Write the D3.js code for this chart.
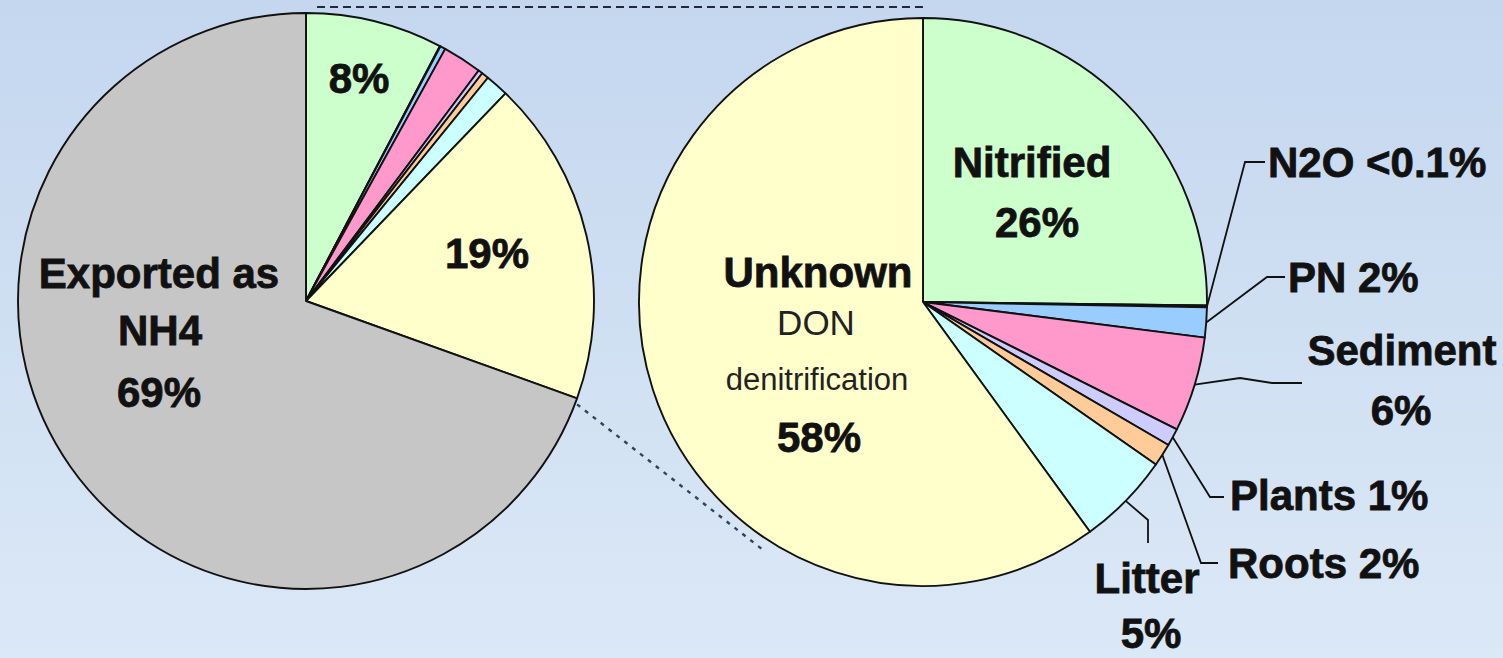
<!DOCTYPE html>
<html lang="en">
<head>
    <title>Nitrogen budget - pie of pie</title>
    <script src="https://d3js.org/d3.v7.min.js"></script>
    <style>
        body{
            margin: 0;
            background-color: #d3e2f3;
        }
        svg{
            display: block;
        }
        text{
            font-family: "Liberation Sans", Arial, sans-serif;
            fill: #111;
        }
        text.bold{
            font-weight: bold;
            font-size: 42px;
            stroke: #111;
            stroke-width: 0.8px;
        }
        text.light{
            font-weight: normal;
            fill: #222;
        }
    </style>
</head>
<body>
<div id="my_dataviz"></div>
<script>

// ---- data ----
// left (whole budget) pie, clockwise from 12 o'clock
var leftCategories = ["Nitrified", "N2O", "PN", "Sediment", "Plants", "Roots", "Litter", "Unknown", "Exported"];
var leftValues     = [7.7, 0.03, 0.3, 2.2, 0.25, 0.4, 1.3, 18.3, 69.5];

// right (breakdown of the non exported part) pie
var rightCategories = ["Nitrified", "N2O", "PN", "Sediment", "Plants", "Roots", "Litter", "Unknown"];
var rightValues     = [25.2, 0.1, 1.7, 5.4, 1.0, 1.3, 5.3, 60.0];

// label texts
var leftLabelLines  = [["8%"], ["19%"], ["Exported as", "NH4", "69%"]];
var innerLabelLines = [["Nitrified", "26%"], ["Unknown", "DON", "denitrification", "58%"]];
var outerLabelLines = [["N2O <0.1%"], ["PN 2%"], ["Sediment", "6%"], ["Plants 1%"], ["Roots 2%"], ["Litter", "5%"]];
var outerLabelCats  = ["N2O", "PN", "Sediment", "Plants", "Roots", "Litter"];

// ---- layout ----
var width = 1503, height = 658;
var L = {cx: 306, cy: 301, r: 288};
var R = {cx: 923, cy: 302, r: 284};

var color = d3.scaleOrdinal()
    .domain(["Nitrified", "N2O", "PN", "Sediment", "Plants", "Roots", "Litter", "Unknown", "Exported"])
    .range(["#ccffcc", "#ccffcc", "#99ccff", "#ff99cc", "#ccccff", "#ffcc99", "#ccffff", "#ffffcc", "#c6c6c6"]);

var svg = d3.select("#my_dataviz")
  .append("svg")
    .attr("width", width)
    .attr("height", height);

// background gradient
var grad = svg.append("defs").append("linearGradient")
    .attr("id", "bg").attr("x1", 0).attr("y1", 0).attr("x2", 0).attr("y2", 1);
grad.append("stop").attr("offset", "0%").attr("stop-color", "#c4d7ef");
grad.append("stop").attr("offset", "100%").attr("stop-color", "#dbe8f6");
svg.append("rect").attr("width", width).attr("height", height).attr("fill", "url(#bg)");

var pie = d3.pie().sort(null).value(function(d){ return d.value; });

function polar(c, r, a){
    return [c.cx + r * Math.sin(a), c.cy - r * Math.cos(a)];
}

function drawPie(c, cats, vals){
    var data = cats.map(function(k, i){ return {key: k, value: vals[i]}; });
    var arcs = pie(data);
    var arc = d3.arc().innerRadius(0).outerRadius(c.r);
    svg.append("g")
        .attr("transform", "translate(" + c.cx + "," + c.cy + ")")
      .selectAll("path")
      .data(arcs)
      .enter()
      .append("path")
        .attr("d", arc)
        .attr("fill", function(d){ return color(d.data.key); })
        .attr("stroke", "#111")
        .attr("stroke-width", 1.9)
        .attr("stroke-linejoin", "round");
    return arcs;
}

var leftArcs = drawPie(L, leftCategories, leftValues);
var rightArcs = drawPie(R, rightCategories, rightValues);

// connector lines between the two pies
var exported = leftArcs.find(function(d){ return d.data.key === "Exported"; });
var p0 = polar(L, L.r, exported.startAngle);
var p1 = polar(R, R.r + 11, 213 * Math.PI / 180);
svg.append("line")
    .attr("x1", L.cx + 11).attr("y1", 7)
    .attr("x2", R.cx + 2).attr("y2", 7)
    .attr("stroke", "#1f2a3c").attr("stroke-width", 2.2)
    .attr("stroke-dasharray", "8,5");
svg.append("line")
    .attr("x1", p0[0]).attr("y1", p0[1] + 6)
    .attr("x2", p1[0]).attr("y2", p1[1])
    .attr("stroke", "#33435b").attr("stroke-width", 2.4)
    .attr("stroke-dasharray", "4,6");

// ---- text helpers ----
function drawLines(c, lines, dx, baselines, anchor, classes, sizes){
    lines.forEach(function(t, i){
        svg.append("text")
            .attr("class", classes[i])
            .attr("x", c.cx + dx[i])
            .attr("y", c.cy + baselines[i])
            .attr("text-anchor", anchor)
            .style("font-size", sizes[i] + "px")
            .text(t);
    });
}

// left pie labels
drawLines(L, leftLabelLines[0], [53], [-208], "middle", ["bold"], [42]);
drawLines(L, leftLabelLines[1], [181], [-33], "middle", ["bold"], [42]);
drawLines(L, leftLabelLines[2], [-147, -146, -147], [-13, 44, 106], "middle", ["bold", "bold", "bold"], [42, 42, 42]);

// right pie inner labels
drawLines(R, innerLabelLines[0], [109, 114], [-125, -65], "middle", ["bold", "bold"], [42, 42]);
drawLines(R, innerLabelLines[1], [-105, -107, -106, -104], [-15, 33, 88, 150], "middle",
    ["bold", "light", "light", "bold"], [42, 35, 31, 42]);

// outer labels with leader lines (elbows relative to right pie centre)
var outerLayout = {
    N2O:      {dx: [345], dy: [-125], anchor: "start",  elbows: [[322, -140], [342, -140]]},
    PN:       {dx: [365], dy: [-10],  anchor: "start",  elbows: [[344, -25], [362, -25]]},
    Sediment: {dx: [479, 478], dy: [63, 123], anchor: "middle", elbows: [[317, 76], [349, 81], [379, 81]]},
    Plants:   {dx: [307], dy: [208],  anchor: "start",  elbows: [[287, 195], [301, 195]]},
    Roots:    {dx: [305], dy: [276],  anchor: "start",  elbows: [[278, 261], [295, 261]]},
    Litter:   {dx: [224, 228], dy: [291, 346], anchor: "middle", elbows: [[225, 218], [225, 241]]}
};

var line = d3.line();
outerLabelCats.forEach(function(k, i){
    var lay = outerLayout[k];
    var a = rightArcs.find(function(d){ return d.data.key === k; });
    var start = polar(R, R.r, (a.startAngle + a.endAngle) / 2);
    var pts = [start].concat(lay.elbows.map(function(e){ return [R.cx + e[0], R.cy + e[1]]; }));
    svg.append("path")
        .attr("d", line(pts))
        .attr("fill", "none")
        .attr("stroke", "#111")
        .attr("stroke-width", 1.8);
    drawLines(R, outerLabelLines[i], lay.dx, lay.dy, lay.anchor,
        outerLabelLines[i].map(function(){ return "bold"; }),
        outerLabelLines[i].map(function(){ return 42; }));
});

</script>
</body>
</html>
